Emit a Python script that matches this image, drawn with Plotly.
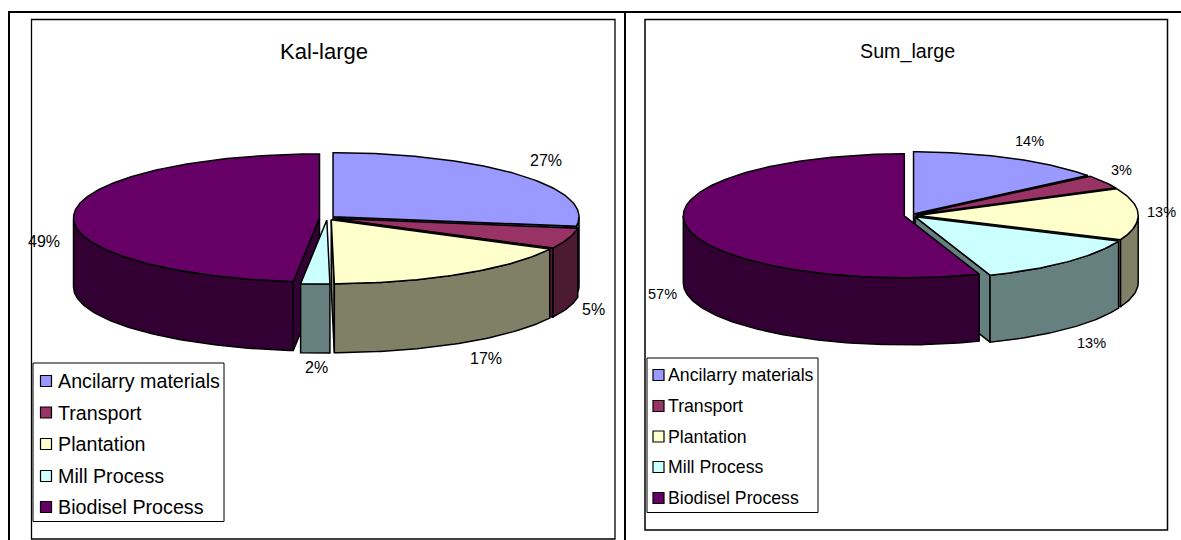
import numpy as np
import plotly.graph_objects as go

categories = ["Ancilarry materials", "Transport", "Plantation", "Mill Process", "Biodisel Process"]
kal_title = "Kal-large"
kal_shares = [27.4, 5.2, 17.2, 1.9, 48.3]
kal_labels = ["27%", "5%", "17%", "2%", "49%"]
sum_title = "Sum_large"
sum_shares = [14.4, 3.5, 13.5, 13.1, 55.5]
sum_labels = ["14%", "3%", "13%", "13%", "57%"]

top_colors = ["#9999FF", "#993366", "#FFFFCC", "#CCFFFF", "#660066"]
wall_colors = ["#4D4D80", "#4D1A33", "#808066", "#668080", "#330033"]

W, H = 1181, 540
FONT = "Liberation Sans, Arial, sans-serif"
fig = go.Figure()


def poly(xs, ys, color):
    fig.add_trace(go.Scatter(
        x=np.append(xs, xs[0]), y=np.append(ys, ys[0]), mode="lines", fill="toself",
        fillcolor=color, line=dict(color="#000000", width=1.5), hoverinfo="skip", showlegend=False))


def pie3d(shares, cx, cy, rx, ry, depth, explode):
    total = sum(shares)
    edges = np.concatenate([[0], np.cumsum(shares)]) / total * 2 * np.pi
    k = ry / rx
    slices = []
    for i in range(len(shares)):
        a0, a1 = edges[i], edges[i + 1]
        mid = (a0 + a1) / 2
        # the slice holding the nearest point of the disc is painted last
        key = -1.0 if a0 <= np.pi <= a1 else abs(mid - np.pi)
        slices.append((key, i, a0, a1, mid))
    for _, i, a0, a1, mid in sorted(slices, key=lambda s: -s[0]):
        ax = cx + explode * np.sin(mid)
        ay = cy - explode * k * np.cos(mid)
        t = np.linspace(a0, a1, max(3, int((a1 - a0) * 60)))
        ex = ax + rx * np.sin(t)
        ey = ay - ry * np.cos(t)
        # radial cut faces that look towards the viewer
        if np.sin(a0) < -1e-6:
            x0, y0 = ax + rx * np.sin(a0), ay - ry * np.cos(a0)
            poly(np.array([ax, x0, x0, ax]), np.array([ay, y0, y0 + depth, ay + depth]), wall_colors[i])
        if np.sin(a1) > 1e-6:
            x1, y1 = ax + rx * np.sin(a1), ay - ry * np.cos(a1)
            poly(np.array([ax, x1, x1, ax]), np.array([ay, y1, y1 + depth, ay + depth]), wall_colors[i])
        # outer rim on the near half
        lo, hi = max(a0, np.pi / 2), min(a1, 3 * np.pi / 2)
        if hi > lo:
            w = np.linspace(lo, hi, max(3, int((hi - lo) * 60)))
            wx = ax + rx * np.sin(w)
            wy = ay - ry * np.cos(w)
            poly(np.concatenate([wx, wx[::-1]]), np.concatenate([wy, wy[::-1] + depth]), wall_colors[i])
        poly(np.concatenate([[ax], ex]), np.concatenate([[ay], ey]), top_colors[i])


def rect(x0, y0, x1, y1, width, fill="rgba(0,0,0,0)", color="#000000"):
    fig.add_shape(type="rect", x0=x0, y0=y0, x1=x1, y1=y1, xref="x", yref="y",
                  line=dict(color=color, width=width), fillcolor=fill, layer="below")


def text(x, y, s, size, anchor="center"):
    fig.add_annotation(x=x, y=y, text=s, xref="x", yref="y", showarrow=False, xanchor=anchor, yanchor="middle",
                       font=dict(family=FONT, size=size, color="#000000"))


def legend(x0, y0, x1, y1, swatch_x, text_x, rows, size):
    rect(x0, y0, x1, y1, 1, fill="#FFFFFF")
    fig.add_trace(go.Scatter(x=[swatch_x] * len(rows), y=rows, mode="markers", hoverinfo="skip", showlegend=False,
                             marker=dict(symbol="square", size=11, color=top_colors, line=dict(color="#000000", width=1.2))))
    for y, name in zip(rows, categories):
        text(text_x, y, name, size, "left")


# page frame
for seg in [(8, 12, 1181, 12), (9, 12, 9, 540), (625, 12, 625, 540)]:
    fig.add_shape(type="line", x0=seg[0], y0=seg[1], x1=seg[2], y1=seg[3], xref="x", yref="y",
                  line=dict(color="#000000", width=2), layer="below")
rect(31.5, 19.5, 615, 539, 1.3)
rect(645, 19.5, 1167.5, 530, 1.5)

pie3d(kal_shares, 327.2, 218, 246, 64, 69, 7.7)
pie3d(sum_shares, 910.7, 215.5, 221, 62, 67, 6.5)

text(324, 51, kal_title, 22)
text(907, 51, sum_title, 19.7)

legend(33, 363, 224, 521.5, 46, 56, [381, 412.5, 444, 476, 507], 19.7)
legend(647, 358, 818, 512.5, 658.5, 666, [375, 406, 436.5, 467, 498], 17.7)

for (x, y), s in zip([(546, 160), (593, 309), (486, 358), (316, 367), (44, 241)], kal_labels):
    text(x, y, s, 16)
for (x, y), s in zip([(1029, 141), (1121, 170), (1161, 212), (1091, 343), (662, 294)], sum_labels):
    text(x, y, s, 14.5)

fig.update_layout(
    width=W, height=H, autosize=False, margin=dict(l=0, r=0, t=0, b=0),
    paper_bgcolor="#FFFFFF", plot_bgcolor="#FFFFFF", showlegend=False,
    xaxis=dict(range=[0, W], visible=False, fixedrange=True),
    yaxis=dict(range=[H, 0], visible=False, fixedrange=True),
)
fig.write_html("out.html", config={"displayModeBar": False},
               post_script="document.body.style.margin='0';document.body.style.overflow='hidden';")
